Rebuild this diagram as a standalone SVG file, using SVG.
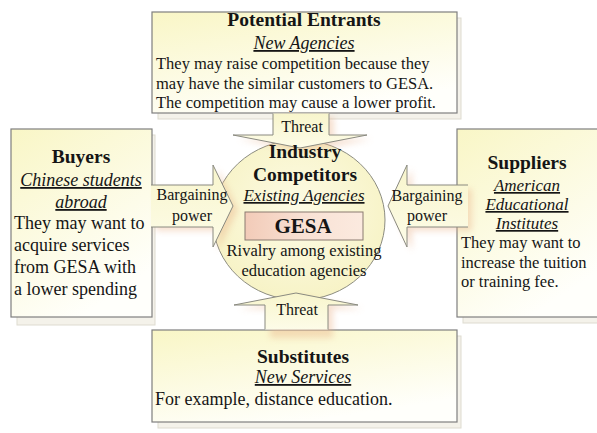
<svg xmlns="http://www.w3.org/2000/svg" width="597" height="433" viewBox="0 0 597 433">
<defs>
<linearGradient id="boxFill" x1="0" y1="0" x2="0.5" y2="1">
<stop offset="0" stop-color="#f9f6c6"/>
<stop offset="1" stop-color="#fffffb"/>
</linearGradient>
<radialGradient id="ringFill" cx="0.5" cy="0.45" r="0.55">
<stop offset="0" stop-color="#fdfbe6"/>
<stop offset="1" stop-color="#f7f3c6"/>
</radialGradient>
<linearGradient id="arrowFill" x1="0" y1="0" x2="0" y2="1">
<stop offset="0" stop-color="#f8f5cc"/>
<stop offset="1" stop-color="#fdfce8"/>
</linearGradient>
<linearGradient id="gesaFill" x1="0" y1="0" x2="1" y2="0">
<stop offset="0" stop-color="#f2cbb8"/>
<stop offset="0.5" stop-color="#f9e1d4"/>
<stop offset="1" stop-color="#fbeadf"/>
</linearGradient>
<filter id="blur" x="-30%" y="-30%" width="160%" height="160%">
<feGaussianBlur stdDeviation="3"/>
</filter>
<style>
.box{fill:url(#boxFill);stroke:#7f7f7f;stroke-width:1.2}
.shadow{fill:#f4f2ea;stroke:#dedbd0;stroke-width:1}
.arrow{fill:url(#arrowFill);stroke:#8a8a80;stroke-width:1}
.ashadow{fill:#e9b088;opacity:0.4;filter:url(#blur)}
.ring{fill:url(#ringFill);stroke:#8c8c80;stroke-width:1}
text{font-family:"Liberation Serif","Times New Roman",serif;fill:#151515}
.title{font-weight:bold;font-size:19.5px;text-anchor:middle}
.sub{font-style:italic;font-size:18px;text-anchor:middle;text-decoration:underline}
.sub17{font-style:italic;font-size:17px;text-anchor:middle;text-decoration:underline}
.b18{font-size:18px}
.b16{font-size:16.5px}
.c16{font-size:16.5px;text-anchor:middle}
.lbl{font-size:16px;text-anchor:middle}
</style>
</defs>
<rect width="597" height="433" fill="#ffffff"/>

<g id="competitors-ring">
<ellipse class="ring" cx="299" cy="220" rx="86" ry="80"/>
</g>

<g id="potential-entrants">
<rect class="shadow" x="158" y="18" width="303" height="101"/>
<rect class="box" x="152" y="12" width="305" height="101"/>
<text class="title" x="304" y="26">Potential Entrants</text>
<text class="sub" x="304" y="49">New Agencies</text>
<text class="b16" x="156" y="69">They may raise competition because they</text>
<text class="b16" x="156" y="89">may have the similar customers to GESA.</text>
<text class="b16" x="156" y="108">The competition may cause a lower profit.</text>
</g>

<g id="buyers">
<rect class="shadow" x="17" y="135" width="138" height="190"/>
<rect class="box" x="11" y="129" width="141" height="188"/>
<text class="title" x="81" y="163">Buyers</text>
<text class="sub" x="81" y="186">Chinese students</text>
<text class="sub" x="81" y="208">abroad</text>
<text class="b18" x="14" y="229">They may want to</text>
<text class="b18" x="14" y="251">acquire services</text>
<text class="b18" x="14" y="273">from GESA with</text>
<text class="b18" x="14" y="295">a lower spending</text>
</g>

<g id="suppliers">
<rect class="shadow" x="463" y="135" width="140" height="188"/>
<rect class="box" x="457" y="129" width="145" height="188"/>
<text class="title" x="527" y="169">Suppliers</text>
<text class="sub17" x="527" y="191">American</text>
<text class="sub17" x="527" y="210">Educational</text>
<text class="sub17" x="527" y="229">Institutes</text>
<text class="b16" x="461" y="248">They may want to</text>
<text class="b16" x="461" y="268">increase the tuition</text>
<text class="b16" x="461" y="287">or training fee.</text>
</g>

<g id="substitutes">
<rect class="shadow" x="158" y="336" width="303" height="92"/>
<rect class="box" x="152" y="330" width="305" height="92"/>
<text class="title" x="303" y="363">Substitutes</text>
<text class="sub" x="303" y="383">New Services</text>
<text class="b18" x="155" y="405">For example, distance education.</text>
</g>

<g id="connectors">
<polygon class="ashadow" points="279,117 334,117 334,139 372,139 305,152 238,139 279,139"/>
<polygon class="ashadow" points="156,189 218,189 218,169 238,210 218,251 218,231 156,231"/>
<polygon class="ashadow" points="472,189 412,189 412,169 393,210 412,251 412,231 472,231"/>
<polygon class="ashadow" points="301,297 363,309 333,309 333,338 270,338 270,309 239,309"/>
<path class="arrow" d="M273,113.6 V135 H233 L300,148 L367,135 H329 V113.6"/>
<path class="arrow" d="M151,185 H213 V165 L233,206 L213,247 V227 H151"/>
<path class="arrow" d="M468,185 H407 V165 L388,206 L407,247 V227 H468"/>
<path class="arrow" d="M265,329.4 V305 H234 L296,293 L358,305 H328 V329.4"/>
<text class="lbl" x="302" y="132">Threat</text>
<text class="lbl" x="192" y="200">Bargaining</text>
<text class="lbl" x="192" y="221">power</text>
<text class="lbl" x="427" y="201">Bargaining</text>
<text class="lbl" x="427" y="221">power</text>
<text class="lbl" x="297" y="315">Threat</text>
</g>

<g id="industry-competitors">
<text class="title" x="305" y="158">Industry</text>
<text class="title" x="305" y="181">Competitors</text>
<text class="sub17" x="304" y="201">Existing Agencies</text>
<text class="c16" x="304" y="256">Rivalry among existing</text>
<text class="c16" x="304" y="276">education agencies</text>
</g>

<g id="gesa">
<rect x="245" y="212" width="118" height="28" fill="url(#gesaFill)" stroke="#8a7a70" stroke-width="1"/>
<text x="303" y="233" style="font-weight:bold;font-size:21px;text-anchor:middle">GESA</text>
</g>
</svg>
